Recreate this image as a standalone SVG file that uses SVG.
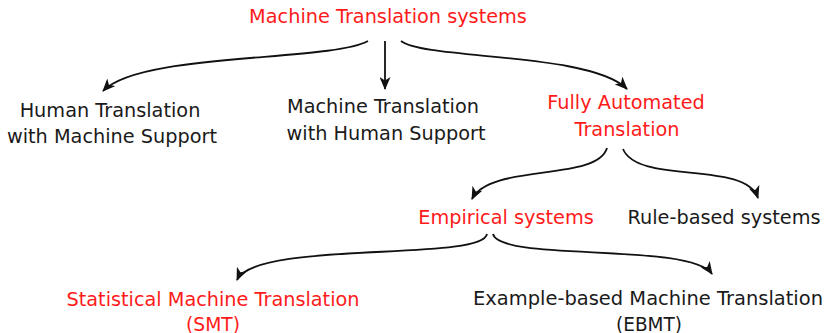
<svg xmlns="http://www.w3.org/2000/svg" width="826" height="333" viewBox="0 0 826 333">
  <style>
    text { font-family: "DejaVu Sans", sans-serif; font-size: 19.3px; text-anchor: middle; fill: #1a1a1a; }
    text.hl { fill: #ff1a1a; }
    #connectors path { fill: none; stroke: #111; stroke-width: 1.8; marker-end: url(#head); }
  </style>
  <defs>
    <!-- notched arrowhead, tip at the path end -->
    <marker id="head" viewBox="0 0 13 11" refX="12" refY="5.5" markerWidth="13" markerHeight="11" markerUnits="userSpaceOnUse" orient="auto">
      <path d="M0,0 L13,5.5 L0,11 L3.5,5.5 Z" fill="#111"/>
    </marker>
  </defs>
  <rect width="826" height="333" fill="#fff"/>

  <g id="connectors">
    <path d="M368,41 C 330,62 140,52 103,91"/>
    <path d="M385,41 L385,89"/>
    <path d="M401,41 C 425,60 590,52 627,89"/>
    <path d="M607,148 C 597,182 490,163 472,199"/>
    <path d="M623,149 C 638,185 745,160 758,198"/>
    <path d="M487,234 C 482,262 255,240 237,280"/>
    <path d="M493,234 C 500,262 690,242 712,274"/>
  </g>

  <g id="mt-systems">
    <text class="hl" x="388" y="23">Machine Translation systems</text>
  </g>
  <g id="human-translation">
    <text x="110" y="117">Human Translation</text>
    <text x="112" y="143">with Machine Support</text>
  </g>
  <g id="machine-translation">
    <text x="383" y="113">Machine Translation</text>
    <text x="386" y="140">with Human Support</text>
  </g>
  <g id="fully-automated">
    <text class="hl" x="626" y="109">Fully Automated</text>
    <text class="hl" x="627" y="136">Translation</text>
  </g>
  <g id="empirical">
    <text class="hl" x="506" y="224">Empirical systems</text>
  </g>
  <g id="rule-based">
    <text x="724" y="224">Rule-based systems</text>
  </g>
  <g id="smt">
    <text class="hl" x="213" y="306" textLength="293" lengthAdjust="spacingAndGlyphs">Statistical Machine Translation</text>
    <text class="hl" x="213" y="331" textLength="54" lengthAdjust="spacingAndGlyphs">(SMT)</text>
  </g>
  <g id="ebmt">
    <text x="648" y="305" textLength="350" lengthAdjust="spacingAndGlyphs">Example-based Machine Translation</text>
    <text x="649" y="331" textLength="66" lengthAdjust="spacingAndGlyphs">(EBMT)</text>
  </g>
</svg>
